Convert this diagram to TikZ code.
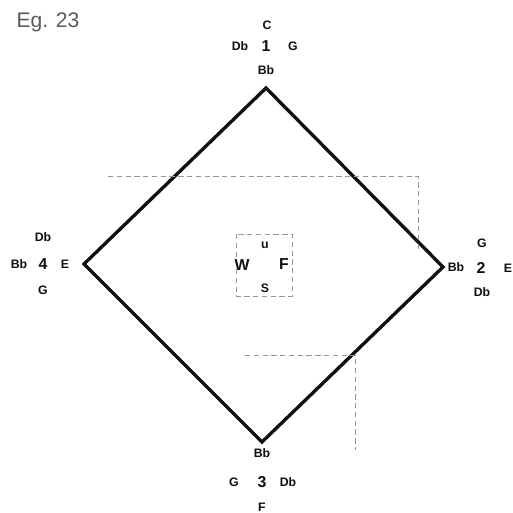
\documentclass[tikz,border=0pt]{standalone}
\usepackage{fontspec}
\setmainfont{Liberation Sans}
\usepackage{xcolor}
\usepackage{tikz}
\definecolor{primary}{RGB}{15, 15, 15}
\definecolor{faint}{RGB}{150, 150, 150}

\begin{document}
\begin{tikzpicture}[
  x=0.02cm, y=-0.02cm,
  lbl/.style={font=\fontsize{7}{8}\selectfont\bfseries,text=primary,inner sep=0pt},
  num/.style={font=\fontsize{9}{10}\selectfont\bfseries,text=primary,inner sep=0pt},
  guide/.style={faint,densely dashed,line width=0.4pt}
]
\useasboundingbox (0,0) rectangle (513,513);
\node[font=\fontsize{12}{13}\selectfont,text=faint!60!black] (title) at (48,22) {Eg. 23};
% corners of the square
\coordinate (n1) at (266,88);
\coordinate (n2) at (443,267);
\coordinate (n3) at (262,442);
\coordinate (n4) at (84,264);
\draw[primary,line width=1.9pt,line join=miter] (n1) -- (n2) -- (n3) -- (n4) -- cycle;
% faint guide lines
\coordinate (ga) at (108,176);
\coordinate (gb) at (418,176);
\coordinate (gc) at (418,250);
\coordinate (gd) at (245,355);
\coordinate (ge) at (355,355);
\coordinate (gf) at (355,450);
\draw[guide] (ga) -- (gb) -- (gc);
\draw[guide] (gd) -- (ge) -- (gf);
\draw[guide] (236,234) rectangle (292,296);
% labels, corner 1
\node[lbl] (c1) at (267,25) {C};
\node[lbl] (l1) at (240,46) {Db};
\node[num] (k1) at (266,46) {1};
\node[lbl] (r1) at (293,46) {G};
\node[lbl] (b1) at (266,70) {Bb};
% corner 2
\node[lbl] (t2) at (482,243) {G};
\node[lbl] (b2) at (456,267) {Bb};
\node[num] (k2) at (481,268) {2};
\node[lbl] (r2) at (508,268) {E};
\node[lbl] (d2) at (482,292) {Db};
% corner 3
\node[lbl] (b3) at (262,453) {Bb};
\node[lbl] (l3) at (234,482) {G};
\node[num] (k3) at (262,482) {3};
\node[lbl] (r3) at (288,482) {Db};
\node[lbl] (f3) at (262,507) {F};
% corner 4
\node[lbl] (t4) at (43,237) {Db};
\node[lbl] (l4) at (19,264) {Bb};
\node[num] (k4) at (43,264) {4};
\node[lbl] (r4) at (65,264) {E};
\node[lbl] (d4) at (43,290) {G};
% centre
\node[lbl] (cu) at (265,245) {u};
\node[num] (cw) at (242,265) {W};
\node[num] (cf) at (284,264) {F};
\node[lbl] (cs) at (265,288) {S};
\end{tikzpicture}
\end{document}
